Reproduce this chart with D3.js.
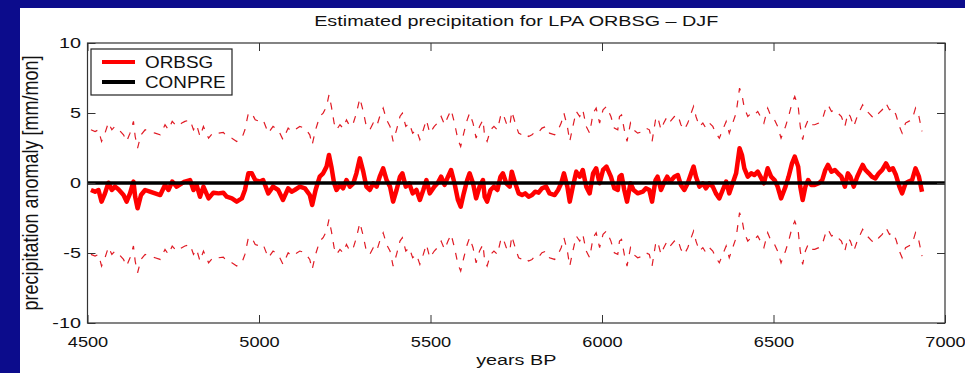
<!DOCTYPE html>
<html>
<head>
<meta charset="utf-8">
<script src="https://cdn.jsdelivr.net/npm/d3@7"></script>
<style>
  body { margin: 0; background: #0c0c8c; }
  svg { display: block; }
  text { font-family: "Liberation Sans", Arial, sans-serif; fill: #111; }
</style>
</head>
<body>
<svg id="chart" width="965" height="373"></svg>
<script>
// ORBSG anomaly series (years BP, mm/mon)
const years = [
  4510, 4522, 4532, 4541, 4551, 4561, 4571, 4580, 4590, 4605, 4614, 4624, 4634, 4639, 4646, 4656, 4668, 4682, 4697, 4712,
  4726, 4736, 4747, 4760, 4775, 4784, 4799, 4809, 4818, 4828, 4838, 4853, 4867, 4882, 4896, 4906, 4921, 4935, 4950, 4959,
  4969, 4979, 4989, 5003,
  5012, 5027, 5041, 5056, 5070, 5085, 5095, 5104, 5119, 5134, 5148, 5155, 5165, 5177, 5187, 5197, 5204, 5211, 5219, 5226,
  5236, 5245, 5255, 5265, 5275, 5284, 5294, 5304, 5313, 5323, 5333, 5343, 5352, 5362, 5372, 5382, 5391, 5401, 5411, 5418,
  5428, 5438, 5448, 5459, 5469, 5479, 5488, 5498, 5511,
  5521, 5531, 5541, 5551, 5560, 5570, 5580, 5588, 5597, 5607, 5614, 5624, 5633, 5643, 5653, 5658, 5665, 5675, 5685, 5695,
  5704, 5711, 5721, 5731, 5737, 5747, 5757, 5767, 5776, 5786, 5796, 5805, 5815, 5825, 5837, 5847, 5862, 5872, 5881, 5889,
  5899, 5906, 5915, 5925, 5935, 5944, 5954, 5964, 5974, 5983, 5993, 6003, 6013,
  6026, 6036, 6046, 6051, 6057, 6065, 6073, 6083, 6092, 6104, 6119, 6128, 6138, 6146, 6156, 6162, 6172, 6180, 6190, 6199,
  6211, 6221, 6230, 6240, 6250, 6260, 6267, 6274, 6284, 6294, 6303, 6313, 6323, 6332, 6342, 6352, 6362, 6371, 6381, 6391,
  6401, 6408, 6415, 6425, 6435, 6444, 6454, 6462, 6472, 6483, 6493, 6503, 6512,
  6522, 6535, 6544, 6554, 6562, 6572, 6578, 6585, 6593, 6601, 6610, 6620, 6632, 6642, 6651, 6659, 6669, 6679, 6688, 6698,
  6708, 6717, 6724, 6734, 6744, 6753, 6760, 6768, 6778, 6787, 6797, 6807, 6817, 6828, 6838, 6848, 6857, 6867, 6875, 6885,
  6894, 6904, 6914, 6924, 6933
];
const orbsg = [
  -0.50, -0.62, -0.50, -1.33, -0.74, 0.02, -0.50, -0.26, -0.45, -0.86, -1.33, -0.74, 0.10, -0.98, -1.81, -0.86, -0.50, -0.62, -0.74, -0.86,
  -0.14, -0.50, 0.10, -0.26, -0.02, 0.10, 0.21, -0.50, -0.14, -0.98, -0.26, -1.10, -0.69, -0.74, -0.69, -0.98, -1.10, -1.33, -1.10, -0.50,
  0.69, 0.69, 0.21, 0.10,
  0.21, -0.74, -0.26, -0.50, -1.21, -0.38, -0.62, -0.50, -0.26, -0.38, -0.86, -1.57, -0.50, 0.45, 0.69, 1.17, 2.00, 1.17, -0.02, -0.50,
  -0.14, -0.38, 0.21, -0.26, -0.02, 0.69, 1.76, 0.81, -0.26, -0.50, -0.02, -0.26, 0.45, 1.05, 0.21, -0.26, -1.33, -0.50, 0.45, 0.69,
  -0.26, -0.02, -0.74, -0.50, -1.21, -0.50, 0.21, -0.74, -0.26,
  0.00, 0.45, -0.14, 0.45, 0.93, -0.02, -1.21, -1.69, -0.74, 0.21, 0.69, -0.02, -1.10, -0.26, 0.21, -0.98, -1.33, -0.50, -0.26, -0.50,
  0.45, 0.69, -0.02, -0.26, 0.81, -0.02, -0.74, -0.86, -0.74, -0.98, -0.86, -0.62, -0.69, -0.38, -0.26, -0.74, -0.86, -0.50, -0.02, 0.69,
  -0.26, -1.33, -0.26, 0.81, 0.45, 0.93, -0.26, -0.74, 0.69, 1.05, -0.02, 0.93, 1.17,
  0.45, -0.38, -0.50, 0.45, 0.57, -0.50, -1.33, -0.02, -0.50, -0.74, -0.62, -0.38, -0.50, -1.33, 0.21, 0.45, -0.50, -0.02, 0.45, 0.10,
  0.45, 0.57, -0.14, -0.50, -0.02, 0.69, 1.17, 0.45, -0.26, -0.02, -0.38, -0.02, -0.26, -0.74, -1.10, -0.50, 0.10, -0.74, -0.02, 0.69,
  2.48, 2.00, 1.05, 0.45, 0.69, 0.57, 0.81, 0.45, -0.02, 1.05, 0.45, 0.21, -0.26,
  -1.10, -0.26, 0.45, 1.40, 1.88, 1.17, -0.26, -1.21, -0.26, 0.21, -0.14, -0.14, -0.02, 0.21, 0.93, 1.29, 0.81, 0.93, 0.69, 0.45,
  -0.26, 0.69, 0.45, -0.26, 0.45, 0.93, 1.29, 0.93, 0.69, 0.45, 0.33, 0.69, 0.93, 1.40, 0.93, 1.05, 0.57, -0.26, -0.74, -0.02,
  0.10, 0.21, 1.05, 0.45, -0.62
];
// uncertainty band around ORBSG (dashed), as offsets from the series
const bandOffsets = [4.3, -4.6];
// CONPRE reference (zero anomaly)
const conpreYears = [4500, 7000];
const conpre = [0, 0];

const xTicks = [4500, 5000, 5500, 6000, 6500, 7000];
const yTicks = [-10, -5, 0, 5, 10];
const legendNames = ['ORBSG', 'CONPRE'];
const legendColors = ['#ff0000', '#000000'];

const W = 965, H = 373;
const SX = 1.32; // the original slide image is stretched horizontally

const svg = d3.select('#chart');

svg.append('rect').attr('width', W).attr('height', H).attr('fill', '#0c0c8c');
svg.append('rect').attr('x', 20).attr('y', 8).attr('width', W - 20).attr('height', H - 8).attr('fill', '#ffffff');

const x = d3.scaleLinear().domain([4500, 7000]).range([87.5, 945]);
const y = d3.scaleLinear().domain([-10, 10]).range([323, 43]);

const plot = svg.append('g');

const line = d3.line()
  .x((d) => x(d[0]))
  .y((d) => y(d[1]));

const series = years.map((yr, i) => [yr, orbsg[i]]);

// dashed band lines
bandOffsets.forEach((off) => {
  plot.append('path')
    .datum(series.map((d) => [d[0], d[1] + off]))
    .attr('d', line)
    .attr('fill', 'none')
    .attr('stroke', '#e01a24')
    .attr('stroke-width', 1.2)
    .attr('stroke-dasharray', '7,8');
});

plot.append('path')
  .datum(series)
  .attr('d', line)
  .attr('fill', 'none')
  .attr('stroke', '#ff0000')
  .attr('stroke-width', 4.5)
  .attr('stroke-linejoin', 'round');

plot.append('path')
  .datum(conpreYears.map((yr, i) => [yr, conpre[i]]))
  .attr('d', line)
  .attr('fill', 'none')
  .attr('stroke', '#000')
  .attr('stroke-width', 3.5);

// axes (inward ticks on all four sides)
const axisColor = '#333';
const styleAxis = (g) => {
  g.select('.domain').remove();
  g.selectAll('line').attr('stroke', axisColor);
};

svg.append('g')
  .attr('transform', `translate(0,${y(-10)})`)
  .call(d3.axisBottom(x).tickValues(xTicks).tickSizeInner(-8).tickSizeOuter(0).tickPadding(14).tickFormat((d) => String(d)))
  .call(styleAxis)
  .call((g) => g.selectAll('text')
    .attr('transform', 'scale(1.3,1)')
    .style('font-size', '14px')
    .style('font-family', '"Liberation Sans", Arial, sans-serif')
    .attr('fill', '#111'));

svg.append('g')
  .attr('transform', `translate(0,${y(10)})`)
  .call(d3.axisTop(x).tickValues(xTicks).tickSizeInner(-8).tickSizeOuter(0).tickFormat(''))
  .call(styleAxis);

svg.append('g')
  .attr('transform', `translate(${x(4500)},0)`)
  .call(d3.axisLeft(y).tickValues(yTicks).tickSizeInner(-8).tickSizeOuter(0).tickPadding(5).tickFormat((d) => String(d)))
  .call(styleAxis)
  .call((g) => g.selectAll('text')
    .attr('transform', `scale(${SX},1)`)
    .style('font-size', '15px')
    .style('font-family', '"Liberation Sans", Arial, sans-serif')
    .attr('fill', '#111'));

svg.append('g')
  .attr('transform', `translate(${x(7000)},0)`)
  .call(d3.axisRight(y).tickValues(yTicks).tickSizeInner(-8).tickSizeOuter(0).tickFormat(''))
  .call(styleAxis);

// frame
svg.append('rect')
  .attr('x', x(4500)).attr('y', y(10))
  .attr('width', x(7000) - x(4500)).attr('height', y(-10) - y(10))
  .attr('fill', 'none')
  .attr('stroke', axisColor)
  .attr('stroke-width', 1.2);

// title and axis labels
const cx = (x(4500) + x(7000)) / 2;

svg.append('text')
  .attr('transform', `translate(${cx},26) scale(${SX},1)`)
  .attr('text-anchor', 'middle')
  .style('font-size', '15px')
  .text('Estimated precipitation for LPA ORBSG \u2013 DJF');

svg.append('text')
  .attr('transform', `translate(${cx},365) scale(${SX},1)`)
  .attr('text-anchor', 'middle')
  .style('font-size', '15px')
  .text('years BP');

svg.append('text')
  .attr('transform', `translate(38,${y(0)}) rotate(-90) scale(1,1.22)`)
  .attr('text-anchor', 'middle')
  .style('font-size', '18px')
  .text('precipitation anomaly [mm/mon]');

// legend
const legend = svg.append('g').attr('transform', 'translate(91,49)');
legend.append('rect')
  .attr('width', 141).attr('height', 46)
  .attr('fill', '#fff')
  .attr('stroke', '#222')
  .attr('stroke-width', 1.2);

legendNames.forEach((name, i) => {
  const ly = 13 + i * 20;
  legend.append('line')
    .attr('x1', 11).attr('x2', 44)
    .attr('y1', ly).attr('y2', ly)
    .attr('stroke', legendColors[i])
    .attr('stroke-width', 4);
  legend.append('text')
    .attr('transform', `translate(54,${ly + 6}) scale(1.18,1)`)
    .style('font-size', '16px')
    .text(name);
});
</script>
</body>
</html>
